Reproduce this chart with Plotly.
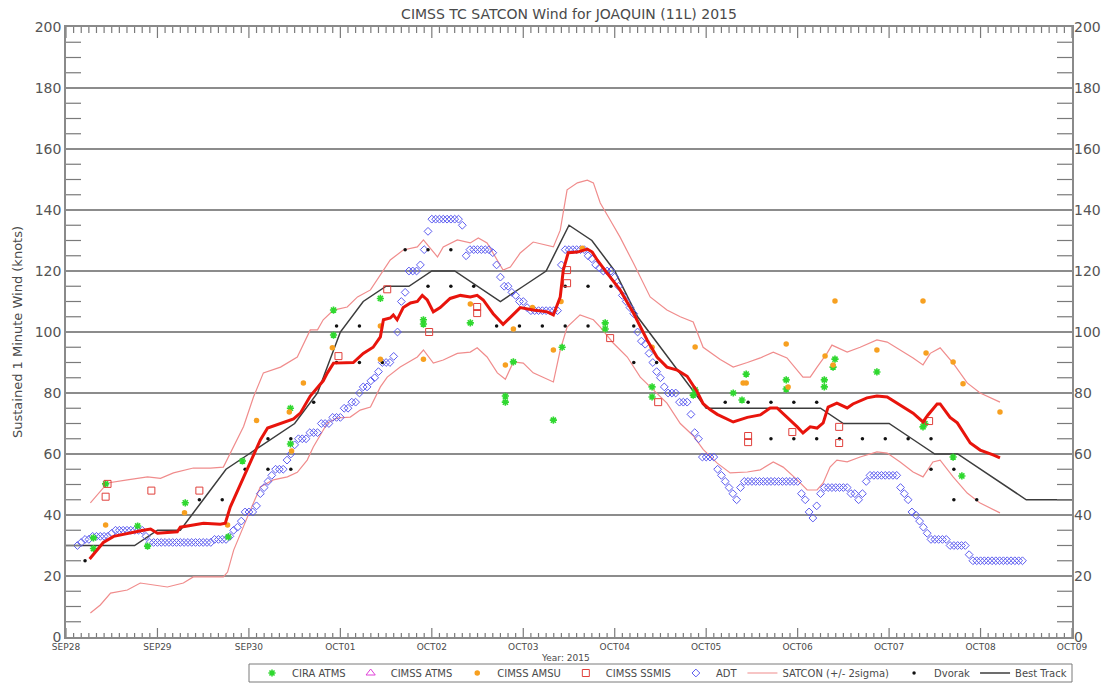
import pandas as pd
import plotly.graph_objects as go

# ---------------------------------------------------------------------------
# Joaquin (11L) 2015 intensity estimates; times are hours after 2015-09-28 00Z
# ---------------------------------------------------------------------------
T0 = pd.Timestamp("2015-09-28 00:00")

# SATCON consensus and its +/- 2 sigma envelope
sat_hr = [6.2, 9.8, 12.5, 16.1, 20.3, 22.2, 24.0, 29.2, 30.0, 33.4,
          36.1, 40.5, 41.8, 43.1, 47.6, 50.2, 51.0, 52.9, 56.3, 59.7,
          61.5, 64.1, 67.5, 68.6, 70.2, 72.8, 75.4, 78.0, 80.6, 82.5,
          83.3, 85.1, 85.9, 86.9, 88.5, 90.4, 92.2, 93.5, 94.8, 96.4,
          98.2, 100.8, 103.5, 106.1, 107.9, 109.5, 112.1, 114.7, 116.6, 119.2,
          122.6, 126.3, 127.9, 129.7, 130.5, 131.8, 134.2, 136.8, 138.1, 139.4,
          142.0, 145.4, 148.9, 152.5, 155.1, 157.7, 160.4, 163.0, 165.6, 167.2,
          169.1, 170.9, 175.1, 178.8, 182.2, 184.8, 186.6, 189.2, 191.9, 193.4,
          195.3, 197.1, 198.7, 200.0, 202.3, 205.0, 206.5, 210.2, 212.8, 215.5,
          218.9, 222.3, 224.9, 226.2, 228.6, 229.4, 232.0, 233.9, 237.3, 239.9,
          243.3, 245.1]
sat_kt = [25.6, 31, 33, 34, 35, 35.4, 34, 34.5, 36, 36.7,
          37.3, 37, 37.3, 42.6, 54.8, 62.3, 64.6, 68.5, 70, 71.5,
          73.4, 79, 84, 86.6, 89.8, 89.8, 90, 93, 95, 98.4,
          104, 104.6, 105.6, 104, 108, 109.5, 110, 112, 110.5, 106.6,
          108, 111, 112, 111.5, 112, 110.5, 106, 102.5, 104.8, 108,
          107.2, 106.6, 105.6, 111.5, 120.3, 126, 126.2, 127.2, 126.2, 123.6,
          119.3, 113.8, 106.2, 97.4, 91.8, 88.5, 87.5, 85.5, 80.5, 76.5,
          74.5, 73, 70.5, 72, 72.8, 75.1, 75.1, 72.1, 68.9, 66.9,
          68.9, 68.5, 70.2, 75.4, 76.7, 75.1, 76.4, 78.4, 79, 78.7,
          76, 73.4, 70.5, 72.8, 76.4, 76.4, 72, 70.2, 63.6, 61.3,
          59.7, 58.7]

sat_hi_hr = [6.4, 10.9, 16.1, 21.4, 24.8, 28.2, 33.4, 37.9, 41.3, 44.0,
             46.6, 49.2, 51.8, 56.3, 60.7, 64.1, 66.0, 67.5, 70.2, 73.8,
             76.5, 79.9, 83.3, 85.1, 88.5, 92.2, 93.8, 95.6, 97.5, 99.0,
             102.7, 106.1, 108.2, 110.5, 112.7, 114.7, 116.6, 119.2, 122.6, 126.3,
             127.9, 129.7, 131.5, 134.2, 136.8, 138.4, 140.2, 142.8, 145.4, 148.9,
             153.3, 157.7, 161.2, 164.6, 167.2, 171.7, 175.1, 178.8, 182.2, 185.6,
             189.2, 193.4, 195.3, 197.1, 199.7, 201.0, 205.0, 208.4, 212.8, 215.5,
             218.9, 222.3, 224.9, 226.8, 229.4, 232.8, 236.5, 239.9, 245.1]
sat_hi_kt = [44, 50.5, 51.5, 52.5, 52, 53.8, 55.4, 55.4, 55.7, 62.3,
             69, 78.7, 86.6, 88.5, 91.8, 100.7, 100.7, 104, 107.2, 108.2,
             111.5, 113.8, 120.3, 123.6, 126.9, 127.9, 130.2, 127.5, 124.6, 127.9,
             130.2, 129.2, 130.8, 129.2, 124.6, 120.3, 121.3, 125.9, 129.5, 128.5,
             127.9, 133.4, 146.6, 148.9, 149.8, 148.9, 142.3, 136.7, 131.1, 122.6,
             111.5, 107.2, 105, 103.3, 95, 91, 88.5, 90, 91.5, 93.4,
             91.5, 85.2, 85.2, 88.5, 93, 95.7, 93.4, 95, 97.4, 96.7,
             94.1, 91.5, 89.2, 93, 94.8, 89.8, 83.3, 80, 77]

sat_lo_hr = [6.4, 9.0, 11.7, 16.1, 19.5, 24.0, 26.6, 30.8, 33.4, 37.1,
             41.3, 42.4, 44.0, 47.6, 51.0, 54.4, 58.1, 60.7, 63.3, 64.9,
             68.6, 71.2, 74.6, 77.2, 79.9, 82.5, 84.3, 87.7, 92.2, 93.8,
             96.4, 99.0, 102.7, 106.1, 107.9, 110.5, 113.2, 115.3, 117.4, 120.0,
             122.6, 127.9, 129.7, 131.5, 134.9, 138.4, 140.2, 143.6, 147.3, 150.7,
             154.1, 157.7, 161.2, 164.6, 167.2, 170.9, 174.3, 178.8, 182.2, 185.6,
             188.2, 191.9, 194.5, 197.1, 198.7, 200.5, 202.3, 205.0, 208.4, 212.8,
             215.5, 218.9, 222.3, 224.9, 227.5, 229.4, 232.8, 236.5, 239.9, 245.1]
sat_lo_kt = [7.9, 10.5, 14.4, 15.4, 17.7, 17, 16.4, 17.7, 19.7, 19.7,
             19.7, 21.3, 28.5, 39.3, 49.2, 51.5, 52.5, 54, 58, 62.3,
             70.2, 71.8, 72.1, 74.4, 75.4, 82, 85.2, 88.5, 91.8, 94.1,
             89.8, 90.8, 93, 93.4, 94.8, 91.8, 86.6, 84.5, 90.2, 89.8,
             86.6, 83.6, 94.1, 101.6, 105.6, 104, 101.6, 96.4, 91.8, 85.2,
             81, 76.7, 70, 66, 61.5, 57, 53.8, 54.1, 54.8, 57.4,
             55.7, 51.5, 48.2, 48.2, 50.5, 55.7, 58, 57.4, 59, 60.7,
             60.3, 57.4, 54.1, 52.5, 57.4, 58, 52.5, 47.2, 43.9, 40.7]

# Best track, 6-hourly from 28 Sep 00Z to 09 Oct 00Z
bt_hr = [0, 6, 12, 18, 24, 30, 36, 42, 48, 54, 60, 66, 72, 78, 84,
         90, 96, 102, 108, 114, 120, 126, 132, 138, 144, 150, 156, 162, 168,
         174, 180, 186, 192, 198, 204, 210, 216, 222, 228, 234, 240, 246,
         252, 258, 264]
bt_kt = [30, 30, 30, 30, 35, 35, 45, 55, 60, 65, 70, 80, 100, 110, 115,
         115, 120, 120, 115, 110, 115, 120, 135, 130, 120, 105, 95, 85, 75,
         75, 75, 75, 75, 75, 70, 70, 70, 65, 60, 60, 55, 50,
         45, 45, 45]

# ADT hourly estimates, first fix at hour 3
adt_first_hr = 3
adt_kt = [30, 31, 32, 32, 33, 33, 33, 33, 33, 34, 35, 35, 35, 35, 35, 35, 35, 35, 33, 31,
          31, 31, 31, 31, 31, 31, 31, 31, 31, 31, 31, 31, 31, 31, 31, 31,
          32, 32, 32, 32,
          33, 35, 36, 38, 41, 41, 41, 43, 47, 49, 51, 53, 55, 55, 55, 58, 60, 63, 65, 65,
          65, 67, 67, 67, 70, 70, 70, 72, 72, 72, 75, 75, 77, 77, 80, 82, 82, 84, 85, 87,
          90, 90, 90, 92, 100, 110, 113, 120, 120, 120, 122, 127, 133,
          137, 137, 137, 137, 137, 137, 137, 137,
          135, 125,
          127, 127, 127, 127, 127, 127,
          126, 122, 118, 115, 115, 113, 112, 110, 110, 108,
          107, 107, 107, 107, 107, 107, 107, 107,
          122,
          127, 127, 127, 127, 127, 127,
          125, 124, 122, 121, 120, 120, 120, 118, 115, 112, 110, 108, 106, 100, 97, 96, 93, 90,
          87, 85, 82, 80, 80, 80, 77, 77, 77, 73, 67, 65, 59, 59, 59, 59, 55, 53, 51, 49, 47, 45,
          49,
          51, 51, 51, 51, 51, 51, 51, 51, 51, 51, 51, 51, 51, 51, 51,
          47, 45, 41, 39, 43, 47, 49, 49, 49, 49, 49, 49, 49, 47, 47, 45, 47, 51,
          53, 53, 53, 53, 53, 53, 53, 53,
          49, 47, 45, 41, 40, 38, 36, 34,
          32, 32, 32, 32, 32,
          30, 30, 30, 30, 30,
          27,
          25, 25, 25, 25, 25, 25, 25, 25, 25, 25, 25, 25, 25, 25]

# Dvorak fixes
dvorak_hr = [5, 35, 41, 47, 53, 53, 59, 59, 65, 71, 71, 77, 77, 83, 89, 95, 95, 101,
             101, 107, 113, 119, 125, 131, 131, 137, 137, 143, 149, 149, 155, 173, 179,
             185, 185, 191, 191, 197, 197, 203, 209, 215, 221, 227, 227, 233, 233, 239]
dvorak_kt = [25, 45, 45, 55, 55, 65, 55, 65, 77, 102, 90, 102, 90, 90, 127, 127, 115, 127,
             115, 115, 102, 102, 102, 115, 102, 115, 102, 115, 102, 90, 90, 77, 77,
             77, 65, 77, 65, 77, 65, 65, 65, 65, 65, 65, 55, 55, 45, 45]

# Microwave sounder / imager estimates
cira_hr = [7.2, 7.2, 10.4, 18.8, 21.4, 31.3, 42.6, 46.3, 58.9, 58.9,
           70.2, 70.2, 82.5, 93.8, 93.8, 106.1, 115.3, 115.3, 117.4, 127.9,
           130.2, 141.5, 141.5, 153.8, 153.8, 164.6, 165.1, 175.1, 177.4, 178.5,
           189.0, 189.0, 199.0, 199.0, 201.3, 201.8, 212.8, 224.9, 225.4, 232.8,
           235.1]
cira_kt = [32.5, 29, 50.2, 36.4, 29.8, 44, 32.8, 57.7, 63.3, 75,
           107.2, 99, 111, 104, 102.6, 103, 79, 77, 90.2, 71.1,
           95, 103, 101, 82, 78.7, 79.3, 81, 80, 77.7, 86.2,
           84.3, 81.3, 84.3, 82, 88.5, 91.1, 86.9, 68.9, 70, 59,
           52.8]

cimss_atms_hr = []
cimss_atms_kt = []

amsu_hr = [10.4, 31.1, 42.4, 50.0, 58.6, 59.2, 62.3, 69.9, 82.5, 82.5,
           93.8, 106.1, 115.3, 117.4, 122.4, 127.9, 129.9, 135.5, 153.8, 165.1,
           177.7, 178.5, 189.0, 189.5, 199.2, 201.3, 201.8, 212.8, 224.9, 225.7,
           232.8, 235.4, 245.1]
amsu_kt = [36.7, 40.7, 36.7, 71, 73.8, 61, 83.3, 94.8, 102, 91.1,
           91.1, 109.2, 89.2, 101, 108, 94.1, 110, 127.5, 95, 95.1,
           83.3, 83.3, 96.1, 82, 92.1, 89.2, 110.2, 94.1, 110.2, 93.1,
           90.2, 83, 73.8]

ssmis_hr = [10.4, 10.9, 22.4, 35.0, 71.5, 84.3, 95.3, 107.9, 107.9, 131.5,
            131.5, 142.8, 155.4, 179.0, 179.0, 190.6, 202.9, 202.9, 226.5]
ssmis_kt = [46, 50.2, 48, 48, 92.1, 114, 100, 108.2, 106.2, 120.3,
            116, 98, 77, 65.9, 63.9, 67.2, 68.9, 63.6, 70.8]

# Axis annotation
day_ticks = ["2015-09-28", "2015-09-29", "2015-09-30", "2015-10-01", "2015-10-02",
             "2015-10-03", "2015-10-04", "2015-10-05", "2015-10-06", "2015-10-07",
             "2015-10-08", "2015-10-09"]
day_labels = ["SEP28", "SEP29", "SEP30", "OCT01", "OCT02", "OCT03", "OCT04",
              "OCT05", "OCT06", "OCT07", "OCT08", "OCT09"]
kt_ticks = list(range(0, 201, 20))
kt_minor_step = 5
time_minor_step_hr = 2

# plot frame geometry (pixels)
W, H = 1103, 684
M_L, M_R, M_T, M_B = 66, 31, 27, 47
PLOT_W = W - M_L - M_R
PLOT_H = H - M_T - M_B


def when(hours):
    return [T0 + pd.Timedelta(hours=h) for h in hours]


adt_hr = [adt_first_hr + i for i in range(len(adt_kt))]

# "%b%d" gives e.g. "Sep28"; alias those to the upper-case day labels
day_alias = {pd.Timestamp(d).strftime("%b%d"): lab for d, lab in zip(day_ticks, day_labels)}

span_hr = 24 * (len(day_ticks) - 1)
kt_lo, kt_hi = kt_ticks[0], kt_ticks[-1]
hr_per_px = span_hr / PLOT_W
kt_per_px = (kt_hi - kt_lo) / PLOT_H

FONT = "DejaVu Sans"
TXT = "#4a4a4a"
AXC = "#8a8a8a"
TICKC = "#7a7a7a"

fig = go.Figure()

# SATCON envelope
fig.add_trace(go.Scatter(x=when(sat_hi_hr), y=sat_hi_kt, mode="lines",
                         line=dict(color="#f08c8c", width=1.2),
                         name="SATCON (+/- 2sigma)", legendrank=6))
fig.add_trace(go.Scatter(x=when(sat_lo_hr), y=sat_lo_kt, mode="lines",
                         line=dict(color="#f08c8c", width=1.2),
                         showlegend=False))

# Best track
fig.add_trace(go.Scatter(x=when(bt_hr), y=bt_kt, mode="lines",
                         line=dict(color="#3c3c3c", width=1.5),
                         name="Best Track", legendrank=8))

# ADT
fig.add_trace(go.Scatter(x=when(adt_hr), y=adt_kt, mode="markers",
                         marker=dict(symbol="diamond-open", size=6, color="#5c5cf0",
                                     line=dict(width=1)),
                         name="ADT", legendrank=5))

# Dvorak
fig.add_trace(go.Scatter(x=when(dvorak_hr), y=dvorak_kt, mode="markers",
                         marker=dict(symbol="circle", size=3.5, color="#111111"),
                         name="Dvorak", legendrank=7))

# CIRA ATMS
fig.add_trace(go.Scatter(x=when(cira_hr), y=cira_kt, mode="markers",
                         marker=dict(symbol="asterisk-open", size=6, color="#2fd82f",
                                     line=dict(width=1.6, color="#2fd82f")),
                         name="CIRA ATMS", legendrank=1))

# CIMSS ATMS (no fixes for this storm)
fig.add_trace(go.Scatter(x=when(cimss_atms_hr) or [None], y=cimss_atms_kt or [None],
                         mode="markers",
                         marker=dict(symbol="triangle-up-open", size=8, color="#e040d8",
                                     line=dict(width=1)),
                         name="CIMSS ATMS", legendrank=2))

# CIMSS AMSU
fig.add_trace(go.Scatter(x=when(amsu_hr), y=amsu_kt, mode="markers",
                         marker=dict(symbol="circle", size=5.5, color="#f7a020"),
                         name="CIMSS AMSU", legendrank=3))

# CIMSS SSMIS
fig.add_trace(go.Scatter(x=when(ssmis_hr), y=ssmis_kt, mode="markers",
                         marker=dict(symbol="square-open", size=7, color="#e0403c",
                                     line=dict(width=1)),
                         name="CIMSS SSMIS", legendrank=4))

# SATCON consensus
fig.add_trace(go.Scatter(x=when(sat_hr), y=sat_kt, mode="lines",
                         line=dict(color="#e8140c", width=3),
                         showlegend=False))

# ---- inward tick marks on all four sides of the frame ----
tx, ty = [], []
for h in range(0, span_hr + 1, time_minor_step_hr):
    major = h % 24 == 0
    bottom_len = (9 if major else 4) * kt_per_px
    top_len = (11 if major else 6) * kt_per_px
    t = T0 + pd.Timedelta(hours=h)
    tx += [t, t, None, t, t, None]
    ty += [kt_lo, kt_lo + bottom_len, None, kt_hi, kt_hi - top_len, None]
y_tick_len_hr = 15 * hr_per_px
for v in range(kt_lo, kt_hi + 1, kt_minor_step):
    if v in kt_ticks:
        continue
    tx += [T0, T0 + pd.Timedelta(hours=y_tick_len_hr), None,
           T0 + pd.Timedelta(hours=span_hr),
           T0 + pd.Timedelta(hours=span_hr - y_tick_len_hr), None]
    ty += [v, v, None, v, v, None]
fig.add_trace(go.Scatter(x=tx, y=ty, mode="lines", line=dict(color=TICKC, width=1.2),
                         hoverinfo="skip", showlegend=False, connectgaps=False))

# frame around the legend row
shapes = [dict(type="rect", xref="paper", yref="paper",
               x0=(249 - M_L) / PLOT_W, x1=1.0,
               y0=-(682 - (H - M_B)) / PLOT_H, y1=-(664 - (H - M_B)) / PLOT_H,
               line=dict(color="#7a7a7a", width=1), fillcolor="rgba(0,0,0,0)",
               layer="above")]

# right-hand copy of the wind-speed scale
right_labels = [dict(text=str(v), xref="paper", yref="y", x=1, y=v, xshift=0,
                     xanchor="left", yanchor="middle", showarrow=False,
                     font=dict(family=FONT, size=14, color="#555555"))
                for v in kt_ticks]

fig.update_layout(
    width=W, height=H,
    margin=dict(l=M_L, r=M_R, t=M_T, b=M_B, autoexpand=False),
    paper_bgcolor="white", plot_bgcolor="white",
    font=dict(family=FONT, color=TXT),
    title=dict(text="CIMSS TC SATCON Wind for JOAQUIN (11L) 2015",
               x=0.5, xref="paper", y=1 - 14 / H, yref="container",
               xanchor="center", yanchor="middle",
               font=dict(family=FONT, size=14, color=TXT)),
    showlegend=True,
    legend=dict(orientation="h", x=1, xanchor="right",
                y=-(658.5 - (H - M_B)) / PLOT_H,
                yanchor="top", bgcolor="rgba(0,0,0,0)", borderwidth=0,
                font=dict(family=FONT, size=10, color=TXT),
                itemwidth=30, traceorder="normal"),
    xaxis=dict(type="date",
               range=[T0, T0 + pd.Timedelta(hours=span_hr)],
               tickmode="linear", tick0=day_ticks[0], dtick=24 * 3600 * 1000,
               tickformat="%b%d", labelalias=day_alias, ticks="",
               showline=True, linecolor=AXC, linewidth=1.5, mirror=True,
               showgrid=False, zeroline=False,
               tickfont=dict(family=FONT, size=9, color=TXT)),
    yaxis=dict(range=[kt_lo, kt_hi], tickmode="linear", tick0=kt_lo,
               dtick=kt_ticks[1] - kt_ticks[0], ticks="",
               showline=True, linecolor=AXC, linewidth=1.5, mirror=True,
               showgrid=True, gridcolor="#8c8c8c", gridwidth=1.5,
               zeroline=False,
               tickfont=dict(family=FONT, size=14, color="#555555")),
    shapes=shapes,
    annotations=[
        dict(text="Sustained 1 Minute Wind (knots)", textangle=-90,
             xref="paper", yref="paper", x=0, y=0.5, xshift=-49,
             xanchor="center", yanchor="middle", showarrow=False,
             font=dict(family=FONT, size=13, color=TXT)),
        dict(text="Year: 2015", xref="paper", yref="paper", x=0.497, y=0,
             yshift=-21, xanchor="center", yanchor="middle", showarrow=False,
             font=dict(family=FONT, size=9, color=TXT)),
    ] + right_labels,
)

fig.write_html("out.html")
